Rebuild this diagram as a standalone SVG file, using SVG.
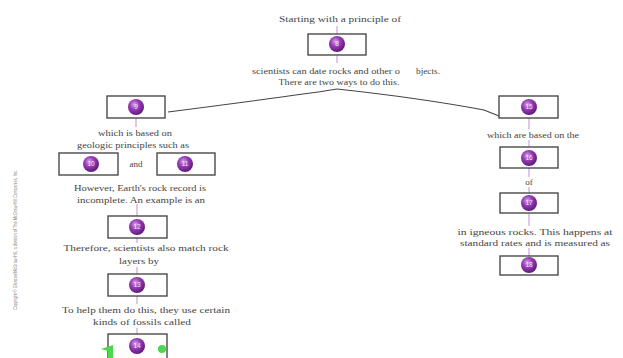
<svg xmlns="http://www.w3.org/2000/svg" width="623" height="358" viewBox="0 0 623 358">
<defs>
<radialGradient id="ball" cx="40%" cy="35%" r="65%">
<stop offset="0" stop-color="#d9a6e8"/>
<stop offset="0.45" stop-color="#9a3fb8"/>
<stop offset="1" stop-color="#5e1a78"/>
</radialGradient>
<style>
.box{fill:#fff;stroke:#4a4a4a;stroke-width:1.4}
.ball{fill:url(#ball)}
.num{font-family:"Liberation Sans",Arial,sans-serif;font-size:6.5px;fill:#f4e8f8;text-anchor:middle}
.t{font-family:"Liberation Serif","Times New Roman",serif;font-size:9px;fill:#444;text-anchor:middle}
.lk{stroke:#c58fd8;stroke-width:1;fill:none}
.main{stroke:#444;stroke-width:1.2;fill:none}
.cr{font-family:"Liberation Sans",Arial,sans-serif;font-size:5.5px;fill:#888}
</style>
</defs>
<rect width="623" height="358" fill="#fff"/>
<g id="connectors">
<path class="main" d="M337 89 Q300 95 168 112"/>
<path class="main" d="M337 89 Q420 98 484 110 L499 116"/>
<line class="lk" x1="337" y1="26" x2="337" y2="63"/>
<line class="lk" x1="136" y1="118" x2="136" y2="127"/>
<line class="lk" x1="137" y1="204" x2="137" y2="216"/>
<line class="lk" x1="137" y1="238" x2="137" y2="243"/>
<line class="lk" x1="137" y1="267" x2="137" y2="274"/>
<line class="lk" x1="137" y1="296" x2="137" y2="304"/>
<line class="lk" x1="137" y1="328" x2="137" y2="334"/>
<line class="lk" x1="529" y1="118" x2="529" y2="129"/>
<line class="lk" x1="529" y1="140" x2="529" y2="147"/>
<line class="lk" x1="529" y1="168" x2="529" y2="177"/>
<line class="lk" x1="529" y1="187" x2="529" y2="193"/>
<line class="lk" x1="529" y1="213" x2="529" y2="226"/>
<line class="lk" x1="529" y1="248" x2="529" y2="256"/>
</g>
<g id="texts">
<text class="t" x="340" y="22" textLength="122" lengthAdjust="spacingAndGlyphs">Starting with a principle of</text>
<text class="t" x="326" y="74" textLength="148" lengthAdjust="spacingAndGlyphs">scientists can date rocks and other o</text>
<text class="t" x="428" y="74" textLength="24" lengthAdjust="spacingAndGlyphs">bjects.</text>
<text class="t" x="339" y="85" textLength="121" lengthAdjust="spacingAndGlyphs">There are two ways to do this.</text>
<text class="t" x="135" y="136" textLength="74" lengthAdjust="spacingAndGlyphs">which is based on</text>
<text class="t" x="133" y="148" textLength="112" lengthAdjust="spacingAndGlyphs">geologic principles such as</text>
<text class="t" x="136" y="167">and</text>
<text class="t" x="140" y="191" textLength="132" lengthAdjust="spacingAndGlyphs">However, Earth's   rock record is</text>
<text class="t" x="141" y="203" textLength="128" lengthAdjust="spacingAndGlyphs">incomplete.  An example is an</text>
<text class="t" x="146" y="251" textLength="165" lengthAdjust="spacingAndGlyphs">Therefore, scientists also match rock</text>
<text class="t" x="139" y="264" textLength="40" lengthAdjust="spacingAndGlyphs">layers by</text>
<text class="t" x="146" y="313" textLength="168" lengthAdjust="spacingAndGlyphs">To help them do this, they use certain</text>
<text class="t" x="142" y="325" textLength="98" lengthAdjust="spacingAndGlyphs">kinds of fossils called</text>
<text class="t" x="533" y="138" textLength="92" lengthAdjust="spacingAndGlyphs">which are based on the</text>
<text class="t" x="529" y="185">of</text>
<text class="t" x="535" y="235" textLength="155" lengthAdjust="spacingAndGlyphs">in igneous rocks. This happens at</text>
<text class="t" x="535" y="246" textLength="150" lengthAdjust="spacingAndGlyphs">standard rates and is measured as</text>
<text class="cr" transform="translate(17 310) rotate(-90)" textLength="140" lengthAdjust="spacingAndGlyphs">Copyright © Glencoe/McGraw-Hill, a division of The McGraw-Hill Companies, Inc.</text>
</g>
<g id="n8"><rect class="box" x="308" y="34" width="58" height="21"/><circle class="ball" cx="337" cy="44" r="8"/><text class="num" x="337" y="46.3">8</text></g>
<g id="n9"><rect class="box" x="107" y="96" width="58" height="22"/><circle class="ball" cx="136" cy="107" r="8"/><text class="num" x="136" y="109.3">9</text></g>
<g id="n10"><rect class="box" x="59" y="153" width="59" height="22"/><circle class="ball" cx="91" cy="164" r="8"/><text class="num" x="91" y="166.3">10</text></g>
<g id="n11"><rect class="box" x="157" y="153" width="58" height="22"/><circle class="ball" cx="185" cy="164" r="8"/><text class="num" x="185" y="166.3">11</text></g>
<g id="n12"><rect class="box" x="108" y="216" width="59" height="22"/><circle class="ball" cx="137" cy="227" r="8"/><text class="num" x="137" y="229.3">12</text></g>
<g id="n13"><rect class="box" x="108" y="274" width="59" height="22"/><circle class="ball" cx="137" cy="285" r="8"/><text class="num" x="137" y="287.3">13</text></g>
<g id="n14"><rect class="box" x="108" y="334" width="59" height="26"/><circle class="ball" cx="137" cy="346" r="8"/><text class="num" x="137" y="348.3">14</text>
<path d="M101 349 L113 345 L113 358 L108 358 L108 351 Z" fill="#4cd84c"/><circle cx="162" cy="349" r="4" fill="#4cd84c"/></g>
<g id="n15"><rect class="box" x="499" y="96" width="59" height="22"/><circle class="ball" cx="529" cy="107" r="8"/><text class="num" x="529" y="109.3">15</text></g>
<g id="n16"><rect class="box" x="500" y="147" width="58" height="21"/><circle class="ball" cx="529" cy="158" r="8"/><text class="num" x="529" y="160.3">16</text></g>
<g id="n17"><rect class="box" x="500" y="193" width="58" height="20"/><circle class="ball" cx="529" cy="203" r="8"/><text class="num" x="529" y="205.3">17</text></g>
<g id="n18"><rect class="box" x="500" y="256" width="58" height="19"/><circle class="ball" cx="529" cy="265" r="8"/><text class="num" x="529" y="267.3">18</text></g>
</svg>
